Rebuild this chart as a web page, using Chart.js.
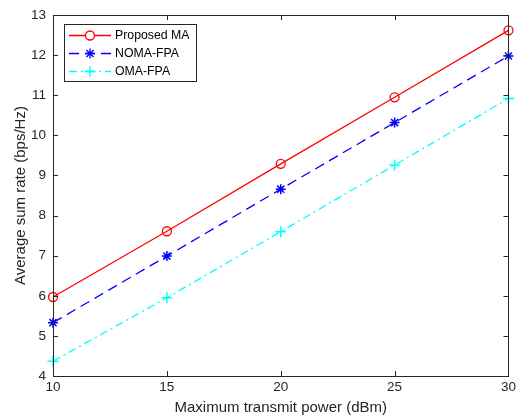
<!DOCTYPE html>
<html lang="en">
<head>
<meta charset="UTF-8">
<title>Average sum rate vs transmit power</title>
<script src="https://cdn.jsdelivr.net/npm/chart.js@4.4.1/dist/chart.umd.min.js"></script>
<style>
  html, body { margin: 0; padding: 0; background: #fff; }
  #wrap { width: 519px; height: 419px; }
</style>
</head>
<body>
<div id="wrap"><canvas id="myChart" width="519" height="419"></canvas></div>
<script>
// data
const powers = [10, 15, 20, 25, 30];
const proposedMA = [5.97, 7.61, 9.29, 10.95, 12.62];
const nomaFPA = [5.33, 6.99, 8.66, 10.32, 11.98];
const omaFPA = [4.37, 5.95, 7.60, 9.26, 10.92];
const xTicks = [10, 15, 20, 25, 30];
const yTicks = [4, 5, 6, 7, 8, 9, 10, 11, 12, 13];

const axisColor = '#262626';
const fontFam = '"Liberation Sans", Arial, Helvetica, sans-serif';

function toXY(ys) {
  return powers.map((p, i) => ({x: p, y: ys[i]}));
}

// box + inward ticks on all four sides, like matlab
const frame = {
  id: 'frame',
  afterDatasetsDraw(chart) {
    const {ctx, chartArea: a} = chart;
    const xs = chart.scales.x, ys = chart.scales.y;
    const len = 5;
    ctx.save();
    ctx.strokeStyle = axisColor;
    ctx.lineWidth = 1;
    ctx.beginPath();
    xTicks.forEach(v => {
      const px = Math.round(xs.getPixelForValue(v)) + 0.5;
      ctx.moveTo(px, a.bottom); ctx.lineTo(px, a.bottom - len);
      ctx.moveTo(px, a.top); ctx.lineTo(px, a.top + len);
    });
    yTicks.forEach(v => {
      const py = Math.round(ys.getPixelForValue(v)) + 0.5;
      ctx.moveTo(a.left, py); ctx.lineTo(a.left + len, py);
      ctx.moveTo(a.right, py); ctx.lineTo(a.right - len, py);
    });
    ctx.stroke();
    ctx.strokeRect(Math.round(a.left) + 0.5, Math.round(a.top) + 0.5,
      Math.round(a.right - a.left), Math.round(a.bottom - a.top));
    ctx.restore();
  }
};

// legend in the upper left corner of the axes
const boxLegend = {
  id: 'boxLegend',
  afterDraw(chart) {
    const {ctx} = chart;
    const x0 = 64, y0 = 24, w = 132, h = 57;
    ctx.save();
    ctx.fillStyle = '#fff';
    ctx.fillRect(x0, y0, w, h);
    ctx.strokeStyle = axisColor;
    ctx.lineWidth = 1;
    ctx.strokeRect(x0 + 0.5, y0 + 0.5, w, h);
    chart.data.datasets.forEach((ds, i) => {
      const cy = y0 + 11.5 + i * 18;
      ctx.strokeStyle = ds.borderColor;
      ctx.lineWidth = ds.borderWidth;
      ctx.setLineDash(ds.borderDash || []);
      ctx.beginPath();
      ctx.moveTo(x0 + 5, cy);
      ctx.lineTo(x0 + 47, cy);
      ctx.stroke();
      ctx.setLineDash([]);
      Chart.helpers.drawPoint(ctx, {
        pointStyle: ds.pointStyle,
        radius: ds.pointRadius,
        borderWidth: ds.pointBorderWidth || 1
      }, x0 + 26, cy);
      ctx.fillStyle = '#000';
      ctx.font = '12.3px ' + fontFam;
      ctx.textBaseline = 'middle';
      ctx.fillText(ds.label, x0 + 51, cy + 0.5);
    });
    ctx.restore();
  }
};

new Chart(document.getElementById('myChart'), {
  type: 'line',
  data: {
    datasets: [
      {
        label: 'Proposed MA',
        data: toXY(proposedMA),
        borderColor: '#ff0000',
        backgroundColor: 'rgba(0,0,0,0)',
        borderWidth: 1.3,
        pointStyle: 'circle',
        pointRadius: 4.5,
        pointBorderWidth: 1.3,
        pointBackgroundColor: 'rgba(0,0,0,0)',
        pointBorderColor: '#ff0000'
      },
      {
        label: 'NOMA-FPA',
        data: toXY(nomaFPA),
        borderColor: '#0000ff',
        backgroundColor: 'rgba(0,0,0,0)',
        borderWidth: 1.3,
        borderDash: [10, 6],
        pointStyle: 'star',
        pointRadius: 5,
        pointBorderWidth: 1.5,
        pointBorderColor: '#0000ff'
      },
      {
        label: 'OMA-FPA',
        data: toXY(omaFPA),
        borderColor: '#00ffff',
        backgroundColor: 'rgba(0,0,0,0)',
        borderWidth: 1.3,
        borderDash: [8, 4, 2, 4],
        pointStyle: 'cross',
        pointRadius: 5.5,
        pointBorderWidth: 1.5,
        pointBorderColor: '#00ffff'
      }
    ]
  },
  options: {
    responsive: false,
    animation: false,
    clip: false,
    layout: { padding: { top: 14, right: 9, left: 0, bottom: 0 } },
    plugins: {
      legend: { display: false },
      tooltip: { enabled: false }
    },
    elements: { line: { tension: 0 } },
    scales: {
      x: {
        type: 'linear',
        min: 10,
        max: 30,
        afterFit: s => { s.height = 43; },
        afterBuildTicks: s => { s.ticks = xTicks.map(v => ({value: v})); },
        grid: { display: false, drawTicks: false },
        border: { display: false },
        ticks: {
          padding: 3,
          color: axisColor,
          font: { family: fontFam, size: 13.5 },
          maxRotation: 0
        },
        title: {
          display: true,
          text: 'Maximum transmit power (dBm)',
          color: axisColor,
          font: { family: fontFam, size: 15 },
          padding: { top: 0, bottom: 2 }
        }
      },
      y: {
        type: 'linear',
        min: 4,
        max: 13,
        afterFit: s => { s.width = 53; },
        afterBuildTicks: s => { s.ticks = yTicks.map(v => ({value: v})); },
        grid: { display: false, drawTicks: false },
        border: { display: false },
        ticks: {
          padding: 7,
          color: axisColor,
          font: { family: fontFam, size: 13.5 }
        },
        title: {
          display: true,
          text: 'Average sum rate (bps/Hz)',
          color: axisColor,
          font: { family: fontFam, size: 15 },
          padding: { top: 12, bottom: 0 }
        }
      }
    }
  },
  plugins: [frame, boxLegend]
});
</script>
</body>
</html>
